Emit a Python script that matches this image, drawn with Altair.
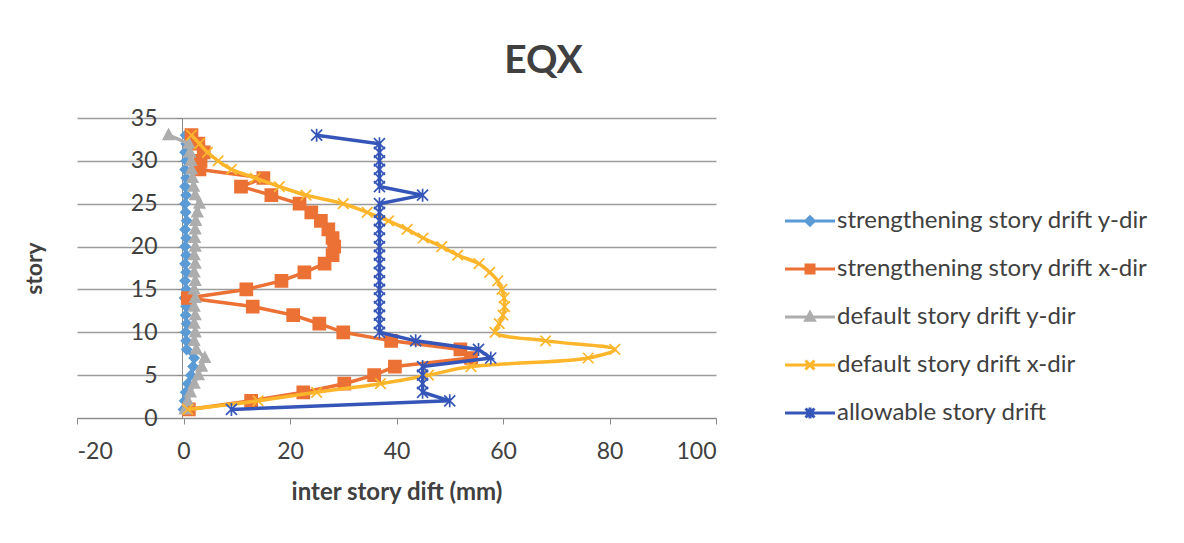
import altair as alt
import pandas as pd

stories = list(range(1, 34))

strength_y = [0.0, 0.2, 0.4, 0.8, 1.4, 1.8, 2.0, 0.6, 0.5, 0.4, 0.6, 0.4, 0.5, 0.2, 0.5, 0.3,
              0.5, 0.3, 0.5, 0.3, 0.5, 0.3, 0.6, 0.4, 0.3, 0.5, 0.3, 0.5, 0.3, 0.5, 0.3, 0.5, 0.4]
strength_x = [1.0, 12.7, 22.5, 30.2, 35.8, 39.7, 54.0, 52.0, 39.0, 30.0, 25.5, 20.6, 13.0, 0.8,
              11.8, 18.4, 22.7, 26.5, 28.0, 28.3, 28.0, 27.2, 25.8, 24.0, 21.8, 16.5, 10.8, 15.0,
              3.0, 3.2, 3.8, 2.8, 1.5]
default_y = [0.3, 0.8, 1.3, 2.0, 2.8, 3.4, 4.0, 2.4, 2.0, 2.2, 2.0, 2.2, 2.0, 2.2, 2.0, 2.2,
             2.0, 2.2, 2.0, 2.2, 2.1, 2.2, 2.3, 2.6, 3.0, 2.2, 1.9, 1.7, 1.5, 1.4, 1.2, 1.0, -2.8]
default_x = [0.8, 14.0, 25.0, 37.0, 46.0, 54.0, 76.0, 81.0, 68.0, 58.5, 59.3, 60.0, 60.3, 60.2,
             59.8, 59.0, 57.5, 55.5, 51.5, 48.5, 45.0, 42.0, 38.5, 34.5, 30.0, 23.0, 18.0, 13.5,
             9.0, 6.5, 4.5, 3.0, 1.5]
allowable = [9.0, 50.0, 44.9, 44.9, 44.9, 44.9, 57.7, 55.4, 43.6, 36.8, 36.8, 36.8, 36.8, 36.8,
             36.8, 36.8, 36.8, 36.8, 36.8, 36.8, 36.8, 36.8, 36.8, 36.8, 36.8, 44.9, 36.8, 36.8,
             36.8, 36.8, 36.8, 36.8, 25.0]

series_names = [
    "strengthening story drift y-dir",
    "strengthening story drift x-dir",
    "default story drift y-dir",
    "default story drift x-dir",
    "allowable story drift",
]
series_values = [strength_y, strength_x, default_y, default_x, allowable]
colors = ["#5B9BD5", "#EB7135", "#ADADAD", "#FDB62C", "#3556B8"]
interps = ["linear", "linear", "linear", "catmull-rom", "linear"]

plot_shapes = [
    "M0,-0.95L0.95,0L0,0.95L-0.95,0Z",
    "M-1.2,-1.2H1.2V1.2H-1.2Z",
    "M0,-1.15L1.05,0.85H-1.05Z",
    "M-1.05,-1.05L1.05,1.05M-1.05,1.05L1.05,-1.05",
    "M-1.1,-1.1L1.1,1.1M-1.1,1.1L1.1,-1.1M0,-1.3V1.3",
]
legend_shapes = [
    "M-5,0H5M0,-0.85L0.85,0L0,0.85L-0.85,0Z",
    "M-5,0H5M-0.8,-0.8H0.8V0.8H-0.8Z",
    "M-5,0H5M0,-0.9L0.85,0.65H-0.85Z",
    "M-5,0H5M-0.9,-0.9L0.9,0.9M-0.9,0.9L0.9,-0.9",
    "M-5,0H5M-0.9,-0.9L0.9,0.9M-0.9,0.9L0.9,-0.9M0,-1.1V1.1",
]

rows = []
for name, vals in zip(series_names, series_values):
    for s, v in zip(stories, vals):
        rows.append({"series": name, "story": s, "drift": v})
df = pd.DataFrame(rows)

FONT = "Lato"
TXT = "#404040"

x_enc = alt.X(
    "drift:Q",
    scale=alt.Scale(domain=[-20, 100], nice=False, zero=False),
    axis=alt.Axis(
        values=[-20, 0, 20, 40, 60, 80, 100],
        labelExpr="'' + datum.value",
        grid=False,
        tickSize=6,
        tickColor="#8C8C8C",
        domainColor="#8C8C8C",
        labelPadding=16,
        labelFont=FONT,
        labelFontSize=23,
        labelColor=TXT,
        title="inter story dift (mm)",
        titleFont=FONT,
        titleFontSize=24,
        titleFontWeight="bold",
        titleColor=TXT,
        titlePadding=17,
    ),
)
y_enc = alt.Y(
    "story:Q",
    scale=alt.Scale(domain=[0, 35], nice=False),
    axis=alt.Axis(
        values=[0, 5, 10, 15, 20, 25, 30, 35],
        grid=True,
        gridColor="#9C9C9C",
        gridWidth=1.5,
        offset=-105,
        tickSize=5,
        tickColor="#8C8C8C",
        domainColor="#8C8C8C",
        labelPadding=20,
        labelFont=FONT,
        labelFontSize=23,
        labelColor=TXT,
        title="story",
        titleFont=FONT,
        titleFontSize=23,
        titleFontWeight="bold",
        titleColor=TXT,
        titlePadding=84,
    ),
)

base = alt.Chart(df)
layers = []
for i, name in enumerate(series_names):
    sub = base.transform_filter(alt.datum.series == name)
    line = sub.mark_line(color=colors[i], strokeWidth=3.5, interpolate=interps[i]).encode(
        x=x_enc, y=y_enc, order="story:Q"
    )
    pts = sub.mark_point(
        shape=plot_shapes[i], size=100, filled=True, fill=colors[i], stroke=colors[i],
        strokeWidth=1.7, opacity=1,
    ).encode(x=x_enc, y=y_enc)
    layers += [line, pts]

leg = alt.Legend(
    orient="none", legendX=721, legendY=91, title=None,
    labelFont=FONT, labelFontSize=24, labelColor=TXT, labelOffset=15, labelLimit=0,
    rowPadding=24, symbolSize=100, symbolStrokeWidth=3, symbolOpacity=1, padding=0,
)
legend_layer = base.transform_filter("datum.story < 0").mark_point(
    size=100, strokeWidth=3, opacity=1, filled=True
).encode(
    x=x_enc, y=y_enc,
    fill=alt.Fill("series:N", scale=alt.Scale(domain=series_names, range=colors), legend=leg),
    stroke=alt.Stroke("series:N", scale=alt.Scale(domain=series_names, range=colors), legend=leg),
    shape=alt.Shape("series:N", scale=alt.Scale(domain=series_names, range=legend_shapes), legend=leg),
)
layers.append(legend_layer)

chart = alt.layer(*layers).properties(
    width=639,
    height=300,
    title=alt.TitleParams(
        "EQX", font=FONT, fontSize=39, fontWeight="bold", color=TXT,
        anchor="middle", dx=147, dy=42, offset=37, baseline="alphabetic",
    ),
    autosize=alt.AutoSizeParams(type="none"),
    padding={"left": 69, "top": 110, "right": 455, "bottom": 112},
    background="white",
).configure_view(stroke="transparent")

chart.save("out.html", embed_options={"renderer": "svg", "actions": False})
